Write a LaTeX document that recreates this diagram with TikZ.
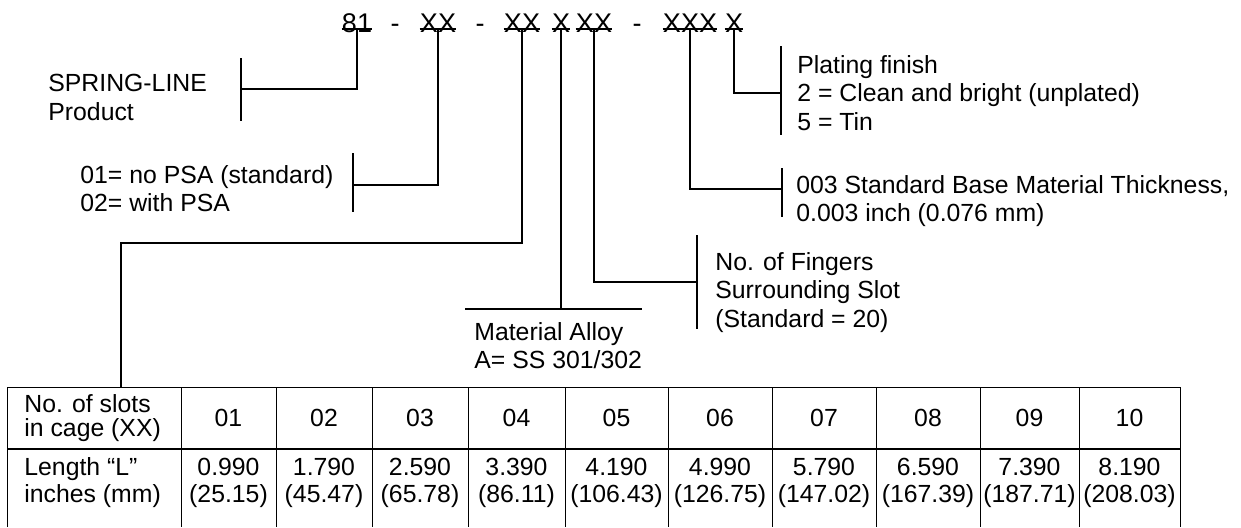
\documentclass[tikz,border=0pt]{standalone}
\usepackage{fontspec}
\setmainfont{Liberation Sans}
\usepackage{tikz}
\usetikzlibrary{calc}
\tikzset{
  codepart/.style={inner sep=0pt,anchor=base,font=\fontsize{13.5}{16}\selectfont},
  callout/.style={inner sep=0pt,anchor=north west,align=left,font=\fontsize{12.4}{14.2}\selectfont},
  leader/.style={line width=0.6pt},
  cellrule/.style={line width=0.5pt},
  headcell/.style={inner sep=0pt,align=center,font=\fontsize{12.4}{12}\selectfont},
  datacell/.style={inner sep=0pt,align=center,font=\fontsize{12.4}{13.5}\selectfont},
}
\newcommand{\uline}[1]{\draw[leader] ([yshift=1.5pt]#1.base west) -- ([yshift=1.5pt]#1.base east);}
\newcommand{\tickbar}[3]{\draw[leader] (#1) ++(0,-#2) -- ++(0,#2+#3);}
\newcommand{\colrule}[1]{\draw[cellrule] (#1,387) -- (#1,527);}
\newcommand{\slotcol}[4]{\node[headcell] (h#2) at (#1,418) {#2}; \node[datacell] (d#2) at (#1,483) {#3\\(#4)};}

\begin{document}
\begin{tikzpicture}[x=0.5pt,y=-0.5pt]
\useasboundingbox (0,0) rectangle (1241,527);
% part number
\node[codepart] (c81) at (357,32) {81};
\node[codepart] (hy1) at (395,32) {-};
\node[codepart] (cpsa) at (438,32) {XX};
\node[codepart] (hy2) at (480,32) {-};
\node[codepart] (cslot) at (522,32) {XX};
\node[codepart] (calloy) at (561,32) {X};
\node[codepart] (cfing) at (594,32) {XX};
\node[codepart] (hy3) at (637,32) {-};
\node[codepart] (cthk) at (690,32) {XXX};
\node[codepart] (cplate) at (734,32) {X};
\uline{c81}\uline{cpsa}\uline{cslot}\uline{calloy}\uline{cfing}\uline{cthk}\uline{cplate}
% callouts
\node[callout] (spring) at (48,74) {SPRING-LINE\\Product};
\node[callout] (psa) at (80,165) {01= no PSA (standard)\\02= with PSA};
\node[callout] (plating) at (797,55) {Plating finish\\2 = Clean and bright (unplated)\\5 = Tin};
\node[callout] (thick) at (796,175) {003 Standard Base Material Thickness,\\0.003 inch (0.076 mm)};
\node[callout] (fingers) at (715,252) {No. of Fingers\\Surrounding Slot\\(Standard = 20)};
\node[callout] (alloy) at (474,322) {Material Alloy\\A= SS 301/302};
% leaders
\coordinate (kspring) at (241,89);
\coordinate (kpsa) at (353,185);
\coordinate (kslot) at (121,243);
\coordinate (tabtop) at (121,387);
\coordinate (alloyl) at (465,309);
\coordinate (alloyr) at (642,309);
\coordinate (kfing) at (697,282);
\coordinate (kthk) at (782,189);
\coordinate (kplate) at (781,93);
\draw[leader] ([yshift=1.5pt]c81.base) |- (kspring);
\draw[leader] ([yshift=1.5pt]cpsa.base) |- (kpsa);
\draw[leader] ([yshift=1.5pt]cslot.base) |- (kslot) -- (tabtop);
\draw[leader] ([yshift=1.5pt]calloy.base) -- (calloy.base |- alloyl);
\draw[leader] (alloyl) -- (alloyr);
\draw[leader] ([yshift=1.5pt]cfing.base) |- (kfing);
\draw[leader] ([yshift=1.5pt]cthk.base) |- (kthk);
\draw[leader] ([yshift=1.5pt]cplate.base) |- (kplate);
\tickbar{kspring}{31}{32}
\tickbar{kpsa}{32}{27}
\tickbar{kfing}{47}{47}
\tickbar{kthk}{21}{28}
\tickbar{kplate}{47}{42}
% slot table
\draw[cellrule] (7,527) |- (1180,387) -- (1180,527);
\draw[line width=1.2pt] (7,449) -- (1180,449);
\colrule{181}\colrule{276}\colrule{372}\colrule{468}\colrule{565}
\colrule{668}\colrule{772}\colrule{876}\colrule{980}\colrule{1079}
\node[headcell,align=left,anchor=west] (slots) at (24,418) {No. of slots\\in cage (XX)};
\node[datacell,align=left,anchor=west] (length) at (24,483) {Length “L”\\inches (mm)};
\slotcol{228.5}{01}{0.990}{25.15}
\slotcol{324}{02}{1.790}{45.47}
\slotcol{420}{03}{2.590}{65.78}
\slotcol{516.5}{04}{3.390}{86.11}
\slotcol{616.5}{05}{4.190}{106.43}
\slotcol{720}{06}{4.990}{126.75}
\slotcol{824}{07}{5.790}{147.02}
\slotcol{928}{08}{6.590}{167.39}
\slotcol{1029.5}{09}{7.390}{187.71}
\slotcol{1129.5}{10}{8.190}{208.03}
\end{tikzpicture}
\end{document}
